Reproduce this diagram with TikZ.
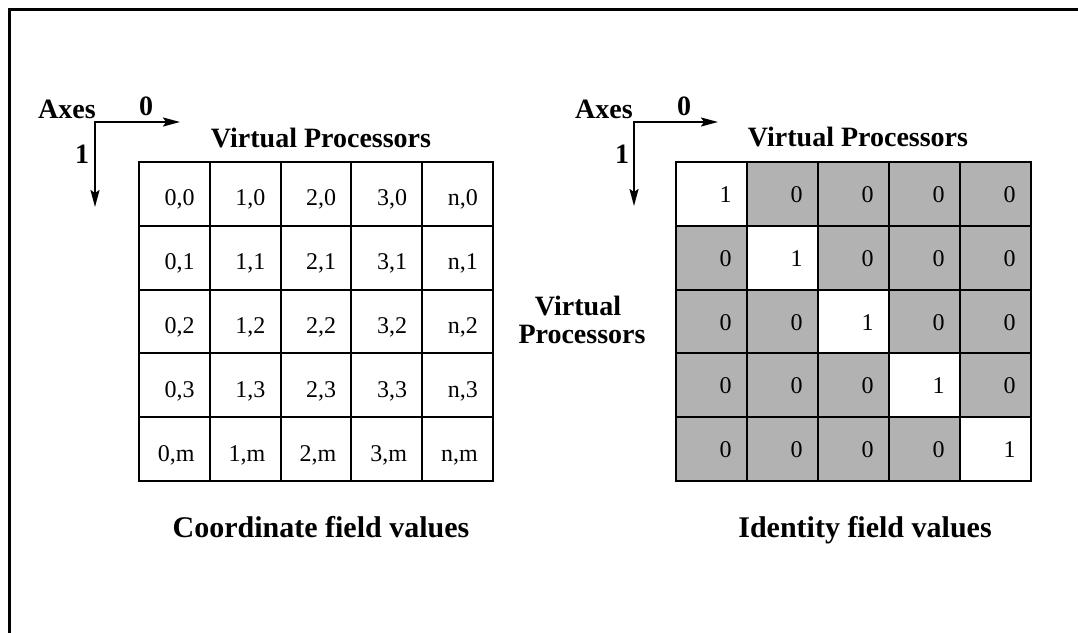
\documentclass[tikz,border=0pt]{standalone}
\usepackage{fontspec}
\setmainfont{Liberation Serif}
\usetikzlibrary{arrows.meta}

\newcommand{\labelfont}{\fontsize{28}{30}\selectfont\bfseries}
\newcommand{\captionfont}{\fontsize{30}{32}\selectfont\bfseries}
\newcommand{\cellfont}{\fontsize{24}{26}\selectfont}

\tikzset{
  frame/.style={line width=3pt, line cap=rect},
  cell/.style={draw, line width=2pt, minimum width=70.8pt, minimum height=63.8pt,
    inner sep=0pt, anchor=north west},
  offcell/.style={cell, fill=black!30},
  val/.style={anchor=base east, inner sep=0pt, font=\cellfont},
  lbl/.style={anchor=base, inner sep=0pt, font=\labelfont},
  captiontext/.style={anchor=base, inner sep=0pt, font=\captionfont},
  axisarrow/.style={line width=2pt, line join=miter,
    {Stealth[length=17pt,width=9pt,inset=3pt]}-{Stealth[length=17pt,width=9pt,inset=3pt]}}
}

\begin{document}
\begin{tikzpicture}[x=1pt, y=-1pt]
\useasboundingbox (0,0) rectangle (1078,632);

% open frame: top and left edges only
\coordinate (FTR) at (1078,9);
\coordinate (FTL) at (9,9);
\coordinate (FBL) at (9,632);
\draw[frame] (FTR) -- (FTL) -- (FBL);

% ---------- left: coordinate field ----------
\coordinate (LO) at (95,122);
\coordinate (LX) at (180,122);
\coordinate (LY) at (95,207);
\draw[axisarrow] (LX) -- (LO) -- (LY);
\node[lbl, anchor=base west] (LAxes) at (38,118) {Axes};
\node[lbl] (LA0) at (146,115) {0};
\node[lbl] (LA1) at (82,163) {1};
\node[lbl] (LVP) at (321,147) {Virtual Processors};

\foreach \c [count=\i from 0] in {0,1,2,3,n} {
  \foreach \r [count=\j from 0] in {0,1,2,3,m} {
    \node[cell] (L-\i-\j) at ({138+70.8*\i},{161+63.8*\j}) {};
    \node[val] (LT-\i-\j) at ([xshift=-16pt,yshift=-12pt]L-\i-\j.east) {\c,\r};
  }
}
\node[captiontext] (LCap) at (321,537) {Coordinate field values};

% ---------- middle label ----------
\node[lbl] (MV) at (578,315) {Virtual};
\node[lbl] (MP) at (582,343) {Processors};

% ---------- right: identity field ----------
\coordinate (RO) at (634,122);
\coordinate (RX) at (718,122);
\coordinate (RY) at (634,206);
\draw[axisarrow] (RX) -- (RO) -- (RY);
\node[lbl, anchor=base west] (RAxes) at (575,118) {Axes};
\node[lbl] (RA0) at (684,115) {0};
\node[lbl] (RA1) at (622,163) {1};
\node[lbl] (RVP) at (858,146) {Virtual Processors};

\foreach \i in {0,...,4} {
  \foreach \j in {0,...,4} {
    \ifnum\i=\j
      \node[cell] (R-\i-\j) at ({675+71*\i},{161+63.8*\j}) {};
      \node[val] (RT-\i-\j) at ([xshift=-16pt,yshift=-8.5pt]R-\i-\j.east) {1};
    \else
      \node[offcell] (R-\i-\j) at ({675+71*\i},{161+63.8*\j}) {};
      \node[val] (RT-\i-\j) at ([xshift=-16pt,yshift=-8.5pt]R-\i-\j.east) {0};
    \fi
  }
}
\node[captiontext] (RCap) at (865,537) {Identity field values};
\end{tikzpicture}
\end{document}
